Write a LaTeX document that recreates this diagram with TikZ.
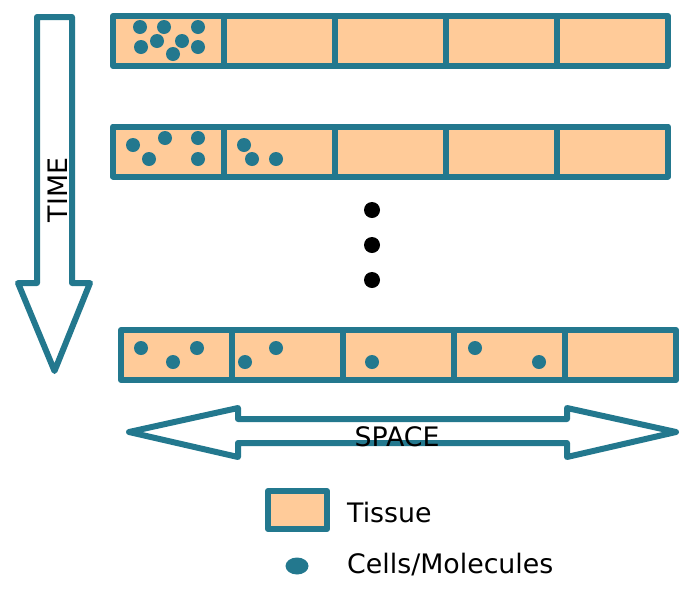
\documentclass[tikz,border=0pt]{standalone}
\usepackage{fontspec}
\setmainfont{DejaVu Sans}
\usetikzlibrary{shapes.geometric}
\definecolor{teal1}{RGB}{35,120,142}
\definecolor{peach}{RGB}{255,203,153}
\tikzset{
  cell/.style={draw=teal1, fill=peach, line width=6pt, line join=round, minimum width=111pt, minimum height=50pt, inner sep=0pt, rectangle},
  dot/.style={circle, fill=teal1, draw=none, minimum size=14pt, inner sep=0pt},
  bigdot/.style={circle, fill=black, draw=none, minimum size=16pt, inner sep=0pt},
  bigarrow/.style={draw=teal1, fill=white, line width=6pt, line join=round},
  lbl/.style={font=\fontsize{26.8}{30}\selectfont, inner sep=0pt}
}
\begin{document}
\begin{tikzpicture}[x=1pt,y=-1pt]
\useasboundingbox (0,0) rectangle (685,603);
% rows of cells
\foreach \i in {1,...,5}{
  \node[cell] (a\i) at ({113+55.5+111*(\i-1)},41) {};
  \node[cell] (b\i) at ({113+55.5+111*(\i-1)},151.5) {};
  \node[cell] (c\i) at ({121+55.5+111*(\i-1)},355) {};
}
% row 1 dots
\foreach \p [count=\k] in {(140,27),(164,27),(198,27),(157,41),(182,41),(141,47),(198,47),(173,54)}
  \node[dot] (da\k) at \p {};
% row 2 dots
\foreach \p [count=\k] in {(133,145),(165,138),(198,138),(149,159),(198,159),(244,145),(252,159),(276,159)}
  \node[dot] (db\k) at \p {};
% row 3 dots
\foreach \p [count=\k] in {(141,348),(173,362),(197,348),(245,362),(276,348),(372,362),(475,348),(539,362)}
  \node[dot] (dc\k) at \p {};
% ellipsis
\node[bigdot] (e1) at (372,210) {};
\node[bigdot] (e2) at (372,245) {};
\node[bigdot] (e3) at (372,280) {};
% TIME arrow
\draw[bigarrow] (37,17) -- (72,17) -- (72,283) -- (90,283) -- (54.5,371) -- (18,283) -- (37,283) -- cycle;
\node[lbl, rotate=90] (time) at (58,190) {TIME};
% SPACE arrow
\draw[bigarrow] (129,432) -- (238,408) -- (238,419) -- (567,419) -- (567,408) -- (676,432) -- (567,457) -- (567,443) -- (238,443) -- (238,457) -- cycle;
\node[lbl] (space) at (397,437) {SPACE};
% legend
\node[cell, minimum width=59pt, minimum height=38pt] (legtissue) at (297.5,510) {};
\node[lbl, anchor=base west] (tissue) at (347,522) {Tissue};
\node[ellipse, fill=teal1, minimum width=23pt, minimum height=17pt, inner sep=0pt] (legcell) at (297,566) {};
\node[lbl, anchor=base west] (cells) at (347,573) {Cells/Molecules};
\end{tikzpicture}
\end{document}
